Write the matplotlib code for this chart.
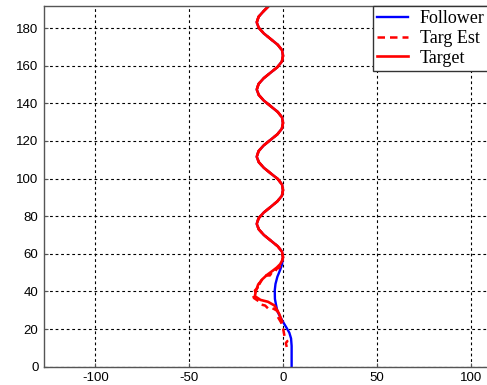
import matplotlib.pyplot as plt

# weave path shared by target / estimate / follower once converged
weave_y = [58.1, 61.1, 64.0, 67.0, 70.0, 73.0, 75.9, 78.9, 81.9, 84.9, 87.9, 90.8, 93.8,
           96.8, 99.8, 102.7, 105.7, 108.7, 111.6, 114.6, 117.6, 120.6, 123.5, 126.5, 129.5,
           132.5, 135.4, 138.4, 141.4, 144.4, 147.3, 150.3, 153.3, 156.3, 159.2, 162.2, 165.2,
           168.2, 171.1, 174.1, 177.1, 180.1, 183.0, 186.0, 189.0, 192.0]
weave_x = [0, -0.5, -2.8, -6.5, -10.2, -12.9, -14.0, -13.0, -10.3, -6.6, -3.0, -0.6, 0,
           -0.5, -2.8, -6.5, -10.2, -12.9, -14.0, -13.0, -10.3, -6.6, -3.0, -0.6, 0,
           -0.5, -2.8, -6.5, -10.2, -12.9, -14.0, -13.0, -10.3, -6.6, -3.0, -0.6, 0,
           -0.5, -2.8, -6.5, -10.2, -12.9, -14.0, -13.0, -10.3, -7.3]

# start of each track before joining the weave
follower_x0 = [4.6, 4.6, 4.3, 3.4, 2.0, 0.2, -1.6, -3.0, -3.7, -4.3, -4.4, -4.0, -3.0, -1.5, -0.5]
follower_y0 = [0, 11, 15, 18, 20.5, 23.5, 26.6, 29.5, 32.8, 36, 40.6, 44, 47.8, 51.5, 54.5]

est_x0 = [2.0, 1.5, 2.3, 1.2, 0.7, 0.3, -0.2, -1.0, -2.5, -3.4, -2.8, -4.5, -6.5, -8.0,
          -9.5, -11.5, -12.5, -14.0, -15.5, -16.0, -14.5, -15.0, -13.5, -14.2, -12.5,
          -11.5, -10.0, -9.0, -7.0, -6.0, -4.0, -3.5, -2.0, -1.0, -0.5]
est_y0 = [10.5, 12.5, 13.5, 15, 16.8, 19, 21.2, 23.5, 26.0, 28.5, 29.5, 30.5, 31.5, 31.0,
          32.5, 33.0, 34.5, 35.5, 36.5, 38.0, 39.0, 40.5, 42.0, 44.5, 44.0,
          46.0, 46.5, 48.5, 48.5, 50.0, 50.5, 52.0, 52.5, 54.5, 56.0]

target_x0 = [-0.5, -2.0, -4.5, -8.0, -12.0, -15.0, -14.5, -13.3, -11.0, -8.5, -5.5, -3.3, -1.5, -0.5]
target_y0 = [24, 28, 32.5, 34.5, 35.5, 37.5, 40, 43.5, 46.5, 48.8, 51, 52.7, 54.5, 56.3]

xticks = [-100, -50, 0, 50, 100]
yticks = list(range(0, 181, 20))

plt.rcParams['font.family'] = 'Liberation Sans'
plt.rcParams['axes.unicode_minus'] = False

fig = plt.figure(figsize=(4.87, 3.85), dpi=100)
ax = fig.add_axes([44 / 487, 18.3 / 385, 478 / 487, 360.7 / 385])

ax.plot(follower_x0 + weave_x, follower_y0 + weave_y, color='#0000ff', lw=1.7, label='Follower')
ax.plot(est_x0 + weave_x, est_y0 + weave_y, color='#ff0000', lw=1.8, ls=(0, (3, 2)), label='Targ Est')
ax.plot(target_x0 + weave_x, target_y0 + weave_y, color='#ff0000', lw=1.9, label='Target')

ax.set_xlim(-127.4, 127.4)
ax.set_ylim(0, 191.7)
ax.set_xticks(xticks)
ax.set_yticks(yticks)
ax.tick_params(direction='in', labelsize=9.5, length=3, pad=4, color='#555555')
ax.grid(True, color='black', lw=0.8, ls=(0, (2.5, 2.5)))
for s in ax.spines.values():
    s.set_color('#555555')
    s.set_linewidth(1.0)

leg = ax.legend(loc='upper left', bbox_to_anchor=(372.7 / 487, 1 - 6 / 385),
                bbox_transform=fig.transFigure, borderaxespad=0, fancybox=False,
                framealpha=1, edgecolor='#333333', handlelength=1.75, handletextpad=0.65,
                labelspacing=0.16, borderpad=0.22,
                prop={'family': 'Liberation Serif', 'size': 13})
leg.get_frame().set_linewidth(1.0)

fig.savefig('out.png', dpi=100)
